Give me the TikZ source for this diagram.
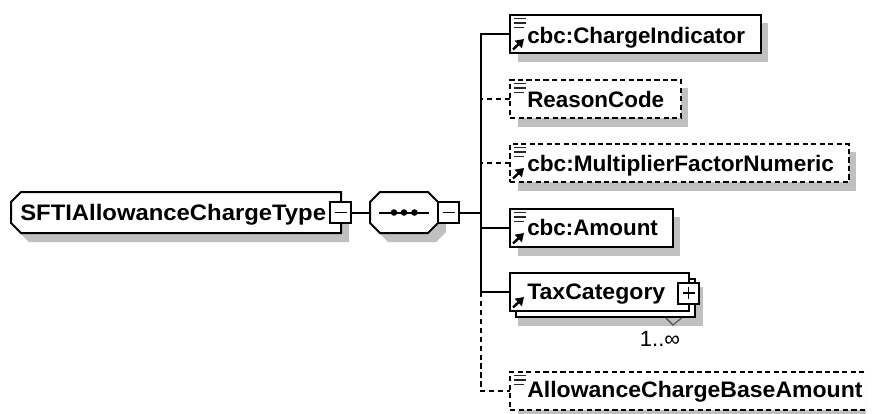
\documentclass[tikz,border=0pt]{standalone}
\usepackage{fontspec}
\setmainfont{Liberation Sans}
\usetikzlibrary{arrows.meta}
\definecolor{shadowgray}{HTML}{C0C0C0}
\tikzset{
  x=0.75pt,y=-0.75pt,
  outline/.style={draw=black,line width=1.5pt,fill=white,inner sep=0pt,outer sep=0pt},
  optional/.style={dash pattern=on 3.9pt off 2.5pt},
  wire/.style={draw=black,line width=1.5pt},
  optwire/.style={wire,dash pattern=on 4.1pt off 2.6pt},
  shadowfill/.style={fill=shadowgray,draw=none},
  label/.style={font=\fontsize{16.8pt}{18pt}\selectfont\bfseries,inner sep=0pt,anchor=base west},
  docline/.style={draw=black!85,line width=1.1pt},
  linkarrow/.style={draw=black,line width=1.8pt,-{Triangle[length=6pt,width=7.5pt]}},
  expander/.style={outline,rectangle},
  occurs/.style={font=\fontsize{16.5pt}{18pt}\selectfont,inner sep=0pt,anchor=base},
  anchorbox/.style={rectangle,inner sep=0pt,outer sep=0pt},
}
% name x1 y1 x2 y2 style text baseline
\newcommand\elembox[8]{%
  \fill[shadowfill] (#2+8,#3+8) rectangle (#4+7,#5+9);
  \pgfmathsetmacro\wpt{(#4-#2)*0.75}\pgfmathsetmacro\hpt{(#5-#3)*0.75}
  \node[outline,#6,rectangle,minimum width=\wpt pt,minimum height=\hpt pt] (#1) at ({(#2+#4)/2},{(#3+#5)/2}) {};
  \node[label] (#1-text) at (#2+17,#8) {#7};
}
\newcommand\docicon[2]{%
  \draw[docline] (#1+4,#2+3.5) -- (#1+16,#2+3.5) (#1+4,#2+8) -- (#1+16,#2+8) (#1+4,#2+12.5) -- (#1+14,#2+12.5);
}
\newcommand\linkicon[2]{%
  \draw[linkarrow] (#1+3,#2-3.5) -- (#1+14,#2-14);
}
\newcommand\minusbox[3]{%
  \node[expander,minimum width=15.75pt,minimum height=15.75pt] (#1) at (#2,#3) {};
  \draw[wire,line width=1pt] (#2-6,#3) -- (#2+6,#3);
}
% octagon-ended shapes: left x, right x, top y, bottom y
\newcommand\rootpath[4]{(#1+10,#3) -- (#2,#3) -- (#2,#4) -- (#1+10,#4) -- (#1,#4-10) -- (#1,#3+10) -- cycle}
\newcommand\seqpath[4]{(#1+10,#3) -- (#2-10,#3) -- (#2,#3+10) -- (#2,#4-10) -- (#2-10,#4) -- (#1+10,#4) -- (#1,#4-10) -- (#1,#3+10) -- cycle}
\begin{document}
\begin{tikzpicture}
\clip (0,0) rectangle (875,414);
\fill[white] (0,0) rectangle (875,414);

% root type
\fill[shadowfill] \rootpath{19}{349}{201}{242};
\filldraw[outline] \rootpath{11}{341}{192}{233};
\node[anchorbox,minimum width=247.5pt,minimum height=30.75pt] (root) at (176,212.5) {};
\node[label] (root-text) at (20,220) {\scalebox{1.065}[1]{SFTIAllowanceChargeType}};
\minusbox{rootminus}{340.5}{212.5}

% sequence compositor
\fill[shadowfill] \seqpath{378}{446}{201}{242};
\filldraw[outline] \seqpath{370}{438}{192}{233};
\node[anchorbox,minimum width=51pt,minimum height=30.75pt] (seq) at (404,212.5) {};
\draw[wire] (379,212.5) -- (429,212.5);
\fill (394,212.5) circle[radius=3.3];
\fill (404,212.5) circle[radius=3.3];
\fill (414.5,212.5) circle[radius=3.3];
\minusbox{seqminus}{448.5}{212.5}

% children
\elembox{c1}{510}{15}{761}{53}{}{cbc:ChargeIndicator}{43}
\docicon{510}{15}\linkicon{510}{53}
\elembox{c2}{510}{80}{681}{118}{optional}{ReasonCode}{107}
\docicon{510}{80}
\elembox{c3}{510}{144}{849}{182}{optional}{\scalebox{1.01}[1]{cbc:MultiplierFactorNumeric}}{171}
\docicon{510}{144}\linkicon{510}{182}
\elembox{c4}{510}{209}{673}{247}{}{cbc:Amount}{235}
\docicon{510}{209}\linkicon{510}{247}

% TaxCategory (repeating element)
\fill[shadowfill] (518,300) rectangle (703,326);
\fill[shadowfill] (695,287) rectangle (703,326);
\draw[draw=black!70,line width=0.8pt] (660,312) -- (673,325) -- (684,316);
\node[outline,rectangle,minimum width=134.25pt,minimum height=28.5pt] (c5back) at (605.5,298) {};
\node[outline,rectangle,minimum width=134.25pt,minimum height=28.5pt] (c5) at (599.5,292) {};
\node[label] (c5-text) at (527,299) {\scalebox{1.03}[1]{TaxCategory}};
\linkicon{510}{311}
\node[expander,minimum width=15.75pt,minimum height=15.75pt] (c5plus) at (688.5,293) {};
\draw[wire,line width=1pt] (682.5,293) -- (694.5,293) (688.5,287) -- (688.5,299);
\node[occurs] (c5occ) at (660,346) {1..∞};

% last element runs off the reference's cropped edge
\begin{scope}
\clip (0,0) rectangle (866,414);
\elembox{c6}{510}{372}{890}{410}{optional}{\scalebox{1.028}[1]{AllowanceChargeBaseAmount}}{397}
\docicon{510}{372}
\end{scope}

% connectors
\coordinate (trunktop) at (480.5,34);
\coordinate (trunkjoin) at (480.5,212.5);
\draw[wire] (rootminus.east) -- (seq.west);
\draw[wire] (seqminus.east) -- (trunkjoin);
\draw[wire] (c1.west) -- (c1.west -| trunktop) -- (c5.west -| trunktop) -- (c5.west);
\draw[wire] (c4.west) -- (c4.west -| trunktop);
\draw[optwire] (c2.west) -- (c2.west -| trunktop);
\draw[optwire] (c3.west) -- (c3.west -| trunktop);
\draw[optwire] (c5.west -| trunktop) -- (c6.west -| trunktop) -- (c6.west);
\end{tikzpicture}
\end{document}
